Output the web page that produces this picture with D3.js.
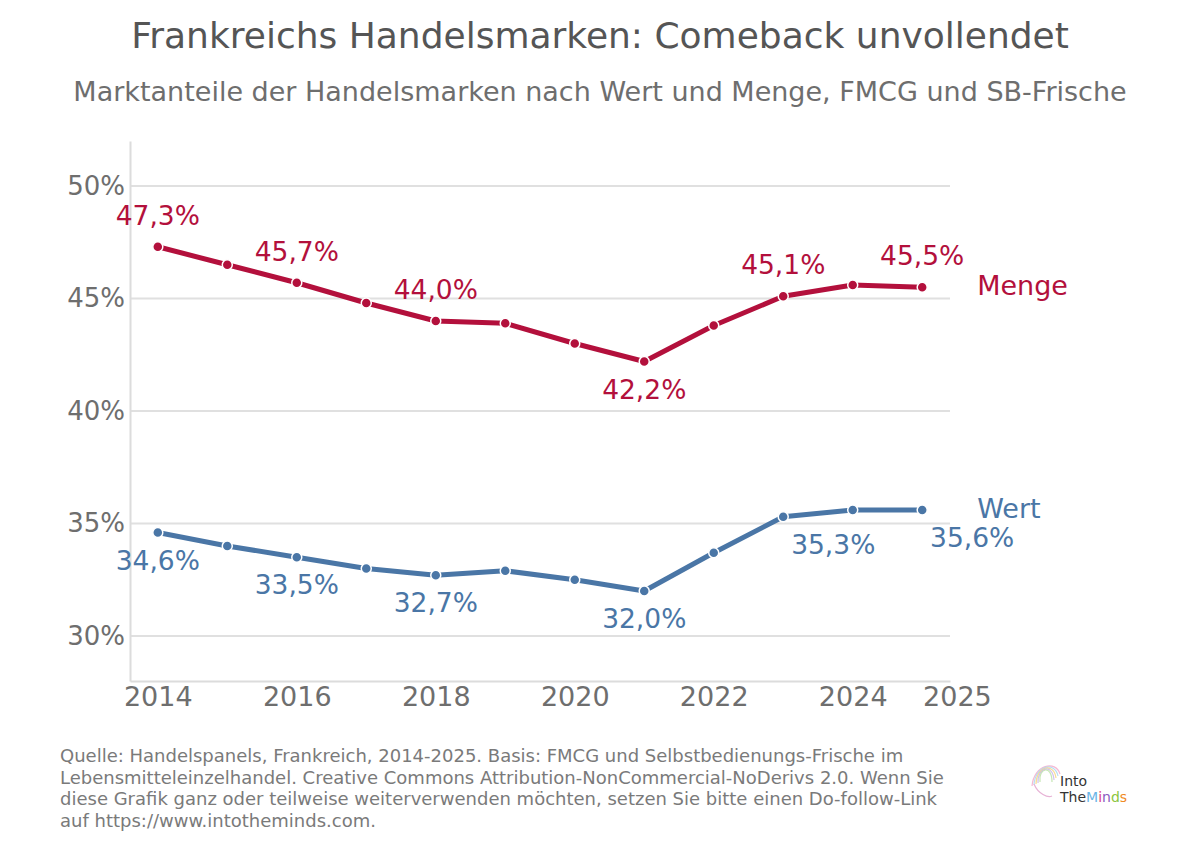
<!DOCTYPE html>
<html>
<head>
<meta charset="utf-8">
<script src="https://cdn.jsdelivr.net/npm/d3@7"></script>
<style>
  body { margin: 0; background: #fff; }
  svg { display: block; font-family: "DejaVu Sans", sans-serif; }
</style>
</head>
<body>
<div id="chart"></div>
<script>
const years = [2014, 2015, 2016, 2017, 2018, 2019, 2020, 2021, 2022, 2023, 2024, 2025];
const menge = [47.3, 46.5, 45.7, 44.8, 44.0, 43.9, 43.0, 42.2, 43.8, 45.1, 45.6, 45.5];
const wert = [34.6, 34.0, 33.5, 33.0, 32.7, 32.9, 32.5, 32.0, 33.7, 35.3, 35.6, 35.6];
const labelYears = [2014, 2016, 2018, 2021, 2023, 2025];
const yTicks = [30, 35, 40, 45, 50];
const xTickLabels = ["2014", "2016", "2018", "2020", "2022", "2024", "2025"];
const xTickValues = [2014, 2016, 2018, 2020, 2022, 2024, 2025.5];

const width = 1200;
const height = 848;
const colMenge = "#b3103c";
const colWert = "#4a76a6";

const svg = d3.select("#chart")
  .append("svg")
  .attr("width", width)
  .attr("height", height);

// Title
svg.append("text")
  .attr("x", 600).attr("y", 48)
  .attr("text-anchor", "middle")
  .attr("font-size", 36)
  .attr("fill", "#555")
  .text("Frankreichs Handelsmarken: Comeback unvollendet");

svg.append("text")
  .attr("x", 600).attr("y", 101)
  .attr("text-anchor", "middle")
  .attr("font-size", 27)
  .attr("fill", "#6e6e6e")
  .text("Marktanteile der Handelsmarken nach Wert und Menge, FMCG und SB-Frische");

const x = d3.scaleLinear().domain([2013.6, 2025.4]).range([130, 950]);
const y = d3.scaleLinear().domain([28, 52]).range([681, 141]);

// Grid
svg.append("g")
  .selectAll("line")
  .data(yTicks)
  .join("line")
  .attr("x1", 130).attr("x2", 950)
  .attr("y1", d => y(d)).attr("y2", d => y(d))
  .attr("stroke", "#e0e0e0")
  .attr("stroke-width", 2);

// Axes
const yAxis = svg.append("g")
  .attr("transform", "translate(130,0)")
  .call(d3.axisLeft(y).tickValues(yTicks).tickSize(0).tickPadding(5).tickFormat(d => d + "%"));
yAxis.select(".domain").attr("stroke", "#dcdcdc").attr("stroke-width", 2);
yAxis.selectAll("text").attr("font-size", 26).attr("fill", "#6e6e6e")
  .attr("font-family", "DejaVu Sans, sans-serif");

const xAxis = svg.append("g")
  .attr("transform", "translate(0,681)")
  .call(d3.axisBottom(x).tickValues(xTickValues).tickSize(0).tickPadding(6)
    .tickFormat((d, i) => xTickLabels[i]));
xAxis.select(".domain").attr("stroke", "#dcdcdc").attr("stroke-width", 2);
xAxis.selectAll("text").attr("font-size", 27).attr("fill", "#6e6e6e")
  .attr("font-family", "DejaVu Sans, sans-serif");

// Lines
const series = [
  { name: "Menge", values: menge, color: colMenge, above: true },
  { name: "Wert", values: wert, color: colWert, above: false }
];

const line = d3.line()
  .x((d, i) => x(years[i]))
  .y(d => y(d));

series.forEach(s => {
  svg.append("path")
    .datum(s.values)
    .attr("d", line)
    .attr("fill", "none")
    .attr("stroke", s.color)
    .attr("stroke-width", 5)
    .attr("stroke-linejoin", "round");

  svg.append("g")
    .selectAll("circle")
    .data(s.values)
    .join("circle")
    .attr("cx", (d, i) => x(years[i]))
    .attr("cy", d => y(d))
    .attr("r", 5)
    .attr("fill", s.color)
    .attr("stroke", "#fff")
    .attr("stroke-width", 1.5);

  //Value labels
  labelYears.forEach(yr => {
    const i = years.indexOf(yr);
    const v = s.values[i];
    let up = s.above;
    if (s.name === "Menge" && yr === 2021) up = false;
    let dx = 0;
    if (s.name === "Wert" && yr >= 2023) dx = 50;
    svg.append("text")
      .attr("x", x(yr) + dx)
      .attr("y", y(v) + (up ? -22 : 37))
      .attr("text-anchor", "middle")
      .attr("font-size", 26.5)
      .attr("fill", s.color)
      .text(d3.format(".1f")(v).replace(".", ",") + "%");
  });

  // Series name
  const last = s.values[s.values.length - 1];
  svg.append("text")
    .attr("x", x(2025) + 55)
    .attr("y", y(last) + 8)
    .attr("font-size", 27)
    .attr("fill", s.color)
    .text(s.name);
});

// Footer
const footer = [
  "Quelle: Handelspanels, Frankreich, 2014-2025. Basis: FMCG und Selbstbedienungs-Frische im",
  "Lebensmitteleinzelhandel. Creative Commons Attribution-NonCommercial-NoDerivs 2.0. Wenn Sie",
  "diese Grafik ganz oder teilweise weiterverwenden möchten, setzen Sie bitte einen Do-follow-Link",
  "auf https://www.intotheminds.com."
];
svg.append("g")
  .selectAll("text")
  .data(footer)
  .join("text")
  .attr("x", 60)
  .attr("y", (d, i) => 762 + i * 21.5)
  .attr("font-size", 18)
  .attr("fill", "#7a7a7a")
  .text(d => d);

// Logo
const logo = svg.append("g").attr("transform", "translate(1030,762)");
const brainCols = ["#f4a6c8", "#a6d4f0", "#f7d37a", "#c7b3e6", "#b6e0a0"];
brainCols.forEach((c, i) => {
  logo.append("path")
    .attr("d", `M${2 + i * 2},${24 - i} C${4 + i},${2 + i} ${26 - i},${-2 + i} ${30 - i * 2},${12 + i * 2}`)
    .attr("fill", "none")
    .attr("stroke", c)
    .attr("stroke-width", 1.2)
    .attr("opacity", 0.8);
});
logo.append("path")
  .attr("d", "M4,22 C8,32 18,36 22,34")
  .attr("fill", "none").attr("stroke", "#e7b3d6").attr("stroke-width", 1.2);
logo.append("text")
  .attr("x", 30).attr("y", 24)
  .attr("font-size", 14).attr("fill", "#333")
  .text("Into");
const t2 = logo.append("text").attr("x", 30).attr("y", 40).attr("font-size", 14);
[["The", "#333"], ["M", "#6ab6e6"], ["i", "#e0408a"], ["n", "#8a5cc0"], ["d", "#8cc63f"], ["s", "#f08a24"]]
  .forEach(p => t2.append("tspan").attr("fill", p[1]).text(p[0]));
</script>
</body>
</html>
